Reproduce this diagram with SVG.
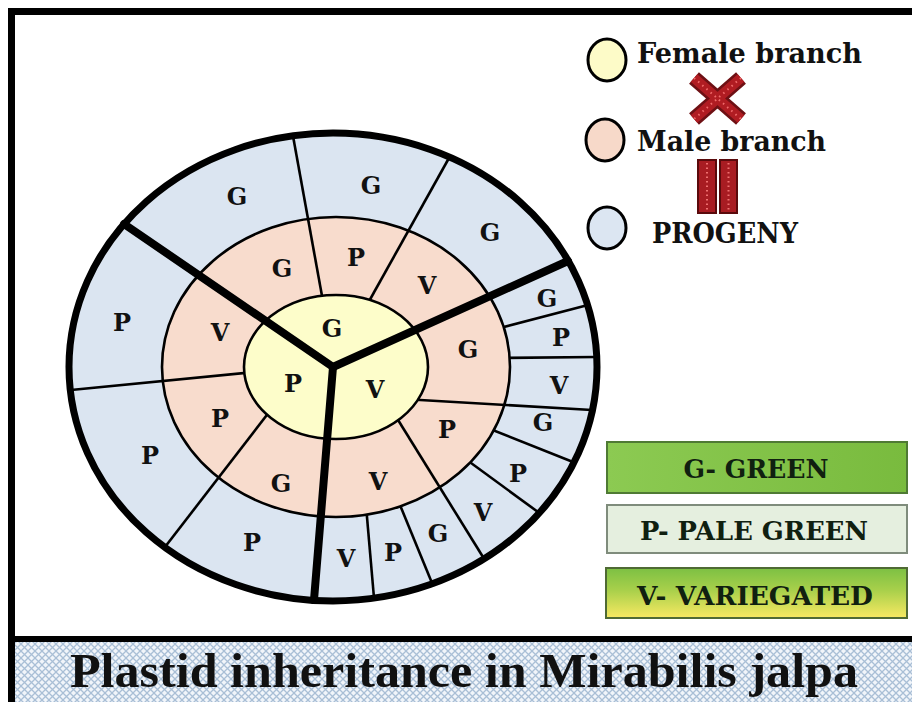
<svg xmlns="http://www.w3.org/2000/svg" width="912" height="702" viewBox="0 0 912 702">
<defs>
<pattern id="hatch" width="7" height="7" patternUnits="userSpaceOnUse">
<rect width="7" height="7" fill="#f1f5fa"/>
<path d="M0,0 L7,7 M7,0 L0,7" stroke="#a9bfd6" stroke-width="1.3"/>
</pattern>
<linearGradient id="gGreen" x1="0" y1="0" x2="1" y2="0">
<stop offset="0" stop-color="#8cca52"/>
<stop offset="1" stop-color="#79bb3e"/>
</linearGradient>
<linearGradient id="gVar" x1="0" y1="0" x2="0" y2="1">
<stop offset="0" stop-color="#7cc043"/>
<stop offset="0.45" stop-color="#a9d04b"/>
<stop offset="1" stop-color="#f8e962"/>
</linearGradient>
<style>
.lab{font-family:"DejaVu Serif","Liberation Serif",serif;font-weight:bold;font-size:24px;fill:#111;text-anchor:middle}
.leg{font-family:"DejaVu Serif","Liberation Serif",serif;font-weight:bold;font-size:28px;fill:#111}
.box{font-family:"DejaVu Serif","Liberation Serif",serif;font-weight:bold;font-size:26px;fill:#102010;text-anchor:middle}
.div{stroke:#000;stroke-width:2.6;fill:none}
.spoke{stroke:#000;stroke-width:8;fill:none;stroke-linecap:round}
.lc{stroke:#000;stroke-width:3}
</style>
</defs>
<rect width="912" height="702" fill="#fff"/>
<g id="frame">
<rect x="15" y="642" width="897" height="60" fill="url(#hatch)"/>
<path d="M11.5,702 V11.5 H912" fill="none" stroke="#000" stroke-width="7"/>
<line x1="8" y1="639" x2="912" y2="639" stroke="#000" stroke-width="6"/>
</g>
<g id="title">
<text x="464" y="687" font-family="Liberation Serif, serif" font-weight="bold" font-size="48" fill="#111" text-anchor="middle" textLength="788" lengthAdjust="spacingAndGlyphs">Plastid inheritance in Mirabilis jalpa</text>
</g>
<g id="wheel">
<ellipse cx="333" cy="367" rx="264" ry="234" fill="#dbe5f1"/>
<g id="connectors">
<line class="div" x1="481" y1="333" x2="588" y2="305"/>
<line class="div" x1="490" y1="358" x2="596" y2="357"/>
<line class="div" x1="475" y1="423" x2="573" y2="462"/>
<line class="div" x1="456" y1="452" x2="538" y2="512"/>
<line class="div" x1="393" y1="488" x2="432" y2="583"/>
<line class="div" x1="365" y1="494" x2="374" y2="598"/>
</g>
<ellipse cx="336" cy="367" rx="174" ry="150" fill="#f8dccd" stroke="#000" stroke-width="2.6"/>
<g id="connectors2">
<line class="div" x1="326" y1="318" x2="293" y2="136"/>
<line class="div" x1="358" y1="321" x2="449" y2="158"/>
<line class="div" x1="265" y1="371" x2="71" y2="390"/>
<line class="div" x1="280" y1="398" x2="165" y2="547"/>
<line class="div" x1="403" y1="399" x2="592" y2="410"/>
<line class="div" x1="390" y1="407" x2="483" y2="557"/>
</g>
<ellipse cx="336" cy="367" rx="92" ry="72" fill="#fdfdca" stroke="#000" stroke-width="2.6"/>
<g id="spokes">
<line class="spoke" x1="333" y1="367" x2="124" y2="224"/>
<line class="spoke" x1="333" y1="367" x2="568" y2="261"/>
<line class="spoke" x1="333" y1="367" x2="314" y2="600"/>
</g>
<ellipse cx="333" cy="367" rx="264" ry="234" fill="none" stroke="#000" stroke-width="7"/>
</g>
<g id="labels-female">
<text class="lab" x="332" y="337">G</text>
<text class="lab" x="293" y="392">P</text>
<text class="lab" x="375" y="398">V</text>
</g>
<g id="labels-male">
<text class="lab" x="282" y="277">G</text>
<text class="lab" x="356" y="266">P</text>
<text class="lab" x="427" y="294">V</text>
<text class="lab" x="220" y="341">V</text>
<text class="lab" x="220" y="427">P</text>
<text class="lab" x="281" y="492">G</text>
<text class="lab" x="468" y="358">G</text>
<text class="lab" x="447" y="438">P</text>
<text class="lab" x="378" y="490">V</text>
</g>
<g id="labels-progeny">
<text class="lab" x="237" y="205">G</text>
<text class="lab" x="371" y="194">G</text>
<text class="lab" x="490" y="241">G</text>
<text class="lab" x="122" y="331">P</text>
<text class="lab" x="150" y="464">P</text>
<text class="lab" x="252" y="551">P</text>
<text class="lab" x="547" y="307">G</text>
<text class="lab" x="561" y="346">P</text>
<text class="lab" x="559" y="394">V</text>
<text class="lab" x="543" y="431">G</text>
<text class="lab" x="518" y="482">P</text>
<text class="lab" x="483" y="521">V</text>
<text class="lab" x="438" y="542">G</text>
<text class="lab" x="393" y="561">P</text>
<text class="lab" x="346" y="567">V</text>
</g>
<g id="legend-female">
<ellipse class="lc" cx="607" cy="60" rx="19" ry="21" fill="#fdfbc8"/>
<text class="leg" x="637" y="63" textLength="225" lengthAdjust="spacingAndGlyphs">Female branch</text>
</g>
<g id="cross">
<path d="M694,78 L741,119 M741,78 L694,119" stroke="#6e1014" stroke-width="15" stroke-linecap="butt"/>
<path d="M694,78 L741,119 M741,78 L694,119" stroke="#b01c22" stroke-width="10"/>
<path d="M694,78 L741,119 M741,78 L694,119" stroke="#f06a6a" stroke-width="2" stroke-dasharray="1.5 4"/>
</g>
<g id="legend-male">
<ellipse class="lc" cx="605" cy="140" rx="19" ry="21" fill="#f7d9c9"/>
<text class="leg" x="637" y="151" textLength="189" lengthAdjust="spacingAndGlyphs">Male branch</text>
</g>
<g id="equals">
<rect x="698" y="160" width="18" height="53" fill="#a81c22" stroke="#5a0a0c" stroke-width="2"/>
<rect x="720" y="160" width="17" height="53" fill="#a81c22" stroke="#5a0a0c" stroke-width="2"/>
<line x1="707" y1="163" x2="707" y2="211" stroke="#f07070" stroke-width="2" stroke-dasharray="1.5 3"/>
<line x1="728.5" y1="163" x2="728.5" y2="211" stroke="#f07070" stroke-width="2" stroke-dasharray="1.5 3"/>
</g>
<g id="legend-progeny">
<ellipse class="lc" cx="607" cy="228" rx="19" ry="21" fill="#dce6f2"/>
<text class="leg" x="652" y="243" textLength="146" lengthAdjust="spacingAndGlyphs">PROGENY</text>
</g>
<g id="key-green">
<rect x="607" y="442" width="300" height="51" fill="url(#gGreen)" stroke="#4f7a34" stroke-width="2"/>
<text class="box" x="756" y="478" textLength="145" lengthAdjust="spacingAndGlyphs">G- GREEN</text>
</g>
<g id="key-pale">
<rect x="607" y="505" width="300" height="48" fill="#e5efdf" stroke="#7f8c7c" stroke-width="2"/>
<text class="box" x="754" y="540" textLength="228" lengthAdjust="spacingAndGlyphs">P- PALE GREEN</text>
</g>
<g id="key-var">
<rect x="606" y="568" width="301" height="50" fill="url(#gVar)" stroke="#4f6a34" stroke-width="2"/>
<text class="box" x="755" y="605" textLength="236" lengthAdjust="spacingAndGlyphs">V- VARIEGATED</text>
</g>
</svg>
